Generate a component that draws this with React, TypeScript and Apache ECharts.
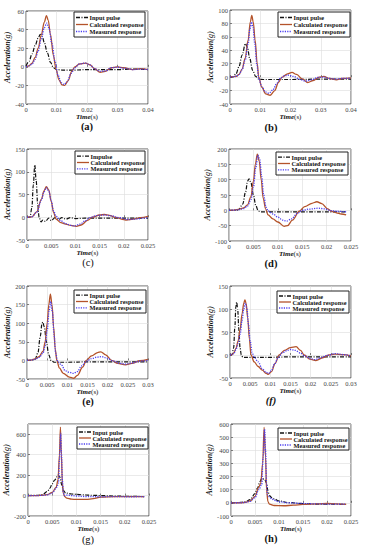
import React, { useEffect, useRef } from "react";
import * as echarts from "echarts";

type P = [number, number];

// (a)
const aInput: P[] = [[0,1],[0.001,6],[0.002,14],[0.003,23],[0.004,31],[0.0047,35],[0.0053,33],[0.006,26],[0.007,15],[0.008,5],[0.009,-1],[0.01,-3],[0.012,-3.5],[0.016,-3.5],[0.02,-3],[0.025,-3],[0.03,-3],[0.035,-2.5],[0.04,-3]];
const aCalc: P[] = [[0,0],[0.001,1],[0.002,4],[0.003,10],[0.004,20],[0.005,34],[0.006,48],[0.0067,55],[0.0073,50],[0.008,35],[0.009,12],[0.0098,-2],[0.0108,-14],[0.0118,-19.5],[0.0127,-20],[0.0138,-15],[0.015,-5],[0.016,0],[0.0175,3],[0.0195,4],[0.021,2],[0.0225,-2],[0.0243,-6],[0.026,-5],[0.028,-1],[0.03,0],[0.032,-1],[0.035,-3],[0.0375,-2],[0.04,-3]];
const aMeas: P[] = [[0,0],[0.001,1],[0.002,3],[0.003,8],[0.004,17],[0.005,30],[0.006,42],[0.0068,47],[0.0075,42],[0.0085,25],[0.0095,6],[0.0105,-9],[0.0115,-17],[0.0125,-19],[0.0135,-16],[0.0148,-7],[0.016,-1],[0.0175,3],[0.0195,4],[0.021,2],[0.0225,-2],[0.0243,-5],[0.026,-4.5],[0.028,-1],[0.03,-0.5],[0.032,-1.5],[0.035,-3],[0.0375,-2.5],[0.04,-3]];
// (b)
const bInput: P[] = [[0,0],[0.001,0.5],[0.002,5],[0.003,16],[0.004,33],[0.0051,50],[0.0058,44],[0.0065,28],[0.0075,10],[0.0085,1],[0.0095,-3],[0.011,-3.5],[0.015,-3.5],[0.02,-3.5],[0.03,-3],[0.04,-3]];
const bCalc: P[] = [[0,0],[0.002,1],[0.003,4],[0.004,12],[0.005,28],[0.006,55],[0.0067,82],[0.0072,92],[0.0077,82],[0.0083,55],[0.009,20],[0.0095,0],[0.0105,-15],[0.0118,-25],[0.0133,-27],[0.0148,-20],[0.016,-8],[0.0172,0],[0.019,5],[0.0205,7],[0.022,4],[0.024,-3],[0.0257,-8],[0.0275,-5],[0.0295,0],[0.031,1],[0.033,-2],[0.0352,-4],[0.037,-2],[0.04,-1]];
const bMeas: P[] = [[0,0],[0.002,1],[0.003,4],[0.004,11],[0.005,25],[0.006,50],[0.0066,72],[0.0071,82],[0.0076,74],[0.0082,50],[0.0089,18],[0.0095,-2],[0.0105,-14],[0.0117,-22],[0.0128,-24],[0.0142,-19],[0.0155,-9],[0.0168,-1],[0.018,2],[0.0195,3],[0.021,1],[0.023,-3],[0.025,-6],[0.027,-4],[0.029,-0.5],[0.031,0],[0.033,-2],[0.035,-3],[0.037,-2],[0.04,-1.5]];
// (c)
const cInput: P[] = [[0,0],[0.0006,0],[0.001,20],[0.0013,70],[0.0016,115],[0.0019,80],[0.0022,30],[0.0025,0],[0.0029,-10],[0.0033,-6],[0.0038,-9],[0.0045,-2],[0.005,-7],[0.0058,-1],[0.0065,-5],[0.0072,-1],[0.008,-4],[0.009,-1],[0.01,-3],[0.012,-2],[0.015,-2],[0.02,-2],[0.025,-2]];
const cCalc: P[] = [[0,0],[0.001,1],[0.002,12],[0.003,40],[0.0035,58],[0.004,67],[0.0045,60],[0.005,35],[0.0055,10],[0.006,-4],[0.007,-12],[0.008,-15],[0.009,-18],[0.0102,-20],[0.0112,-17],[0.0125,-7],[0.0135,0],[0.015,5],[0.016,6],[0.017,4],[0.0185,-1],[0.02,-5],[0.0205,-6],[0.022,-4],[0.0235,-1],[0.025,2]];
const cMeas: P[] = [[0,0],[0.001,1],[0.002,11],[0.003,38],[0.0035,56],[0.004,65],[0.0045,58],[0.005,36],[0.0055,14],[0.006,2],[0.007,-8],[0.008,-14],[0.009,-18],[0.0098,-19],[0.011,-15],[0.012,-8],[0.013,-1],[0.0145,4],[0.016,5],[0.0175,3],[0.019,-1],[0.021,-5],[0.0225,-4],[0.024,-2],[0.025,-1]];
// (d)
const dInput: P[] = [[0,0],[0.0015,0],[0.002,3],[0.0028,20],[0.0034,60],[0.0038,95],[0.0041,103],[0.0045,90],[0.005,50],[0.0055,15],[0.006,-2],[0.0065,-5],[0.008,-5],[0.012,-5],[0.016,-5],[0.02,-5],[0.024,-5]];
const dCalc: P[] = [[0,0],[0.001,1],[0.002,3],[0.003,8],[0.0038,18],[0.0045,45],[0.005,95],[0.0054,150],[0.0058,183],[0.0062,160],[0.0066,100],[0.007,40],[0.0075,5],[0.008,-15],[0.009,-28],[0.01,-38],[0.0113,-52],[0.012,-50],[0.013,-32],[0.0144,-3],[0.0155,12],[0.017,23],[0.018,28],[0.019,22],[0.0202,5],[0.021,-3],[0.022,-8],[0.023,-12],[0.024,-15]];
const dMeas: P[] = [[0,0],[0.001,1],[0.002,2],[0.003,6],[0.0038,14],[0.0045,35],[0.005,75],[0.0055,140],[0.0059,180],[0.0063,165],[0.0067,110],[0.0071,50],[0.0076,10],[0.008,-2],[0.009,-12],[0.01,-22],[0.011,-32],[0.0118,-35],[0.0128,-28],[0.014,-10],[0.015,0],[0.0165,4],[0.0183,7],[0.0195,5],[0.021,-1],[0.022,-3],[0.024,-5]];
// (e)
const eInput: P[] = [[0,0],[0.001,0],[0.002,3],[0.0027,20],[0.0033,65],[0.0037,98],[0.0039,103],[0.0043,90],[0.0048,50],[0.0054,15],[0.006,-1],[0.0068,-5],[0.01,-5],[0.015,-4],[0.02,-4],[0.025,-4],[0.03,-4]];
const eCalc: P[] = [[0,0],[0.001,1],[0.002,4],[0.003,10],[0.004,25],[0.0045,50],[0.005,100],[0.0054,150],[0.0058,178],[0.0062,150],[0.0066,90],[0.007,30],[0.0074,0],[0.008,-20],[0.009,-35],[0.0105,-45],[0.0116,-48],[0.0125,-40],[0.0138,-18],[0.0147,0],[0.016,12],[0.0175,21],[0.0183,23],[0.0195,15],[0.021,0],[0.0225,-8],[0.0244,-12],[0.026,-8],[0.028,-1],[0.03,3]];
const eMeas: P[] = [[0,0],[0.001,1],[0.002,3],[0.003,8],[0.004,20],[0.0045,40],[0.005,80],[0.0055,135],[0.0059,158],[0.0063,130],[0.0067,70],[0.0071,20],[0.0076,-2],[0.0085,-12],[0.0095,-28],[0.0105,-32],[0.0115,-35],[0.0125,-30],[0.0135,-15],[0.0148,-2],[0.016,5],[0.0175,9],[0.0185,10],[0.0198,6],[0.0215,-2],[0.023,-8],[0.0245,-10],[0.026,-7],[0.028,-2],[0.03,0]];
// (f)
const fInput: P[] = [[0,0],[0.0005,1],[0.0009,15],[0.0012,60],[0.00145,105],[0.00165,115],[0.0019,100],[0.0022,55],[0.0025,15],[0.0028,0],[0.0032,-5],[0.005,-5],[0.01,-5],[0.015,-4],[0.02,-4],[0.025,-4],[0.03,-4]];
const fCalc: P[] = [[0,0],[0.0005,1],[0.001,5],[0.0015,15],[0.002,30],[0.0025,55],[0.003,90],[0.0034,112],[0.0037,120],[0.004,112],[0.0044,80],[0.0048,35],[0.0052,0],[0.006,-15],[0.007,-25],[0.008,-33],[0.009,-40],[0.0095,-42],[0.0103,-36],[0.0112,-18],[0.0122,0],[0.0135,10],[0.015,16],[0.0164,18],[0.0175,10],[0.0184,0],[0.0198,-9],[0.0213,-12],[0.023,-6],[0.0245,0],[0.026,2],[0.028,1],[0.03,-2]];
const fMeas: P[] = [[0,0],[0.0005,1],[0.001,4],[0.0015,12],[0.002,25],[0.0025,45],[0.003,75],[0.0034,100],[0.0038,113],[0.0042,100],[0.0046,65],[0.005,30],[0.0055,5],[0.006,-5],[0.007,-15],[0.008,-30],[0.009,-38],[0.0096,-40],[0.0103,-33],[0.011,-20],[0.012,-5],[0.013,5],[0.0142,10],[0.015,12],[0.0162,10],[0.0175,4],[0.0185,-2],[0.02,-8],[0.021,-10],[0.0225,-6],[0.024,-1],[0.026,3],[0.028,1],[0.03,-2]];
// (g)
const gInput: P[] = [[0,0],[0.002,2],[0.003,10],[0.004,40],[0.0045,70],[0.005,115],[0.0055,150],[0.0062,200],[0.0066,180],[0.007,100],[0.0073,50],[0.0078,25],[0.009,15],[0.011,8],[0.013,3],[0.015,0],[0.018,-5],[0.021,-8],[0.024,-10]];
const gCalc: P[] = [[0,0],[0.002,0],[0.003,3],[0.004,10],[0.005,30],[0.0058,80],[0.0062,150],[0.0065,400],[0.0067,670],[0.0069,400],[0.0071,120],[0.0073,20],[0.0076,-10],[0.008,-25],[0.009,-35],[0.01,-38],[0.012,-38],[0.0135,-30],[0.015,-15],[0.018,-10],[0.021,-10],[0.024,-10]];
const gMeas: P[] = [[0,0],[0.002,0],[0.003,2],[0.004,8],[0.005,25],[0.0058,70],[0.0061,100],[0.0063,120],[0.0065,350],[0.00675,610],[0.0069,420],[0.0071,150],[0.0073,30],[0.0075,0],[0.008,5],[0.009,0],[0.01,-5],[0.012,-10],[0.015,-12],[0.018,-10],[0.021,-12],[0.024,-10]];
// (h)
const hInput: P[] = [[0,0],[0.002,3],[0.003,8],[0.004,25],[0.005,70],[0.0055,110],[0.006,160],[0.0064,185],[0.007,180],[0.0074,150],[0.0077,90],[0.008,55],[0.0085,40],[0.009,30],[0.01,15],[0.012,2],[0.015,-5],[0.018,-10],[0.021,-10],[0.024,-12]];
const hCalc: P[] = [[0,0],[0.002,1],[0.003,4],[0.004,15],[0.005,50],[0.0058,120],[0.0062,150],[0.0066,300],[0.0069,575],[0.0072,350],[0.0074,100],[0.0077,10],[0.008,-10],[0.009,-20],[0.011,-22],[0.013,-18],[0.015,-12],[0.018,-8],[0.02,-5],[0.022,-8],[0.024,-12]];
const hMeas: P[] = [[0,0],[0.002,1],[0.003,3],[0.004,12],[0.005,40],[0.0058,100],[0.0064,140],[0.0067,350],[0.007,560],[0.0072,400],[0.0074,150],[0.0076,60],[0.008,45],[0.0085,30],[0.009,20],[0.01,8],[0.012,0],[0.015,-5],[0.018,-8],[0.021,-10],[0.024,-10]];

const inputNames = ["Input pulse", "Input pulse", "Impulse", "Input pulse", "Input pulse", "Input pulse", "Input pulse", "Input pulse"];
const calcName = "Calculated response";
const measName = "Measured response";
const captions = ["(a)", "(b)", "(c)", "(d)", "(e)", "(f)", "(g)", "(h)"];

// axis ranges
const xMaxes = [0.04, 0.04, 0.025, 0.025, 0.03, 0.03, 0.025, 0.025];
const xIntervals = [0.01, 0.01, 0.005, 0.005, 0.005, 0.005, 0.005, 0.005];
const yMins = [-40, -40, -50, -100, -50, -50, -200, -100];
const yMaxes = [60, 100, 150, 200, 200, 150, 700, 600];
const yIntervals = [20, 20, 50, 50, 50, 50, 200, 100];

const seriesData: P[][][] = [
  [aInput, aCalc, aMeas],
  [bInput, bCalc, bMeas],
  [cInput, cCalc, cMeas],
  [dInput, dCalc, dMeas],
  [eInput, eCalc, eMeas],
  [fInput, fCalc, fMeas],
  [gInput, gCalc, gMeas],
  [hInput, hCalc, hMeas],
];

// layout (pixels)
const grids = [
  { left: 26, top: 11, width: 122, height: 93 },
  { left: 230, top: 10, width: 121, height: 94 },
  { left: 27, top: 149, width: 121, height: 91 },
  { left: 229, top: 149, width: 122, height: 92 },
  { left: 27, top: 286, width: 121, height: 93 },
  { left: 230, top: 286, width: 121, height: 92 },
  { left: 28, top: 424, width: 121, height: 92 },
  { left: 231, top: 424, width: 120, height: 92 },
];
const legendBoxes = [
  { x: 74, y: 12, w: 71, h: 25 },
  { x: 278, y: 12, w: 72, h: 25 },
  { x: 75, y: 151, w: 70, h: 23 },
  { x: 276, y: 152, w: 72, h: 23 },
  { x: 74, y: 290, w: 72, h: 23 },
  { x: 277, y: 291, w: 72, h: 22 },
  { x: 77, y: 427, w: 71, h: 22 },
  { x: 278, y: 428, w: 71, h: 22 },
];
const captionPos = [
  { x: 87, y: 126, weight: "bold", style: "normal" },
  { x: 271, y: 127, weight: "bold", style: "normal" },
  { x: 88, y: 262, weight: "normal", style: "normal" },
  { x: 271, y: 263, weight: "bold", style: "normal" },
  { x: 88, y: 401, weight: "bold", style: "normal" },
  { x: 271, y: 400, weight: "bold", style: "italic" },
  { x: 88, y: 539, weight: "normal", style: "normal" },
  { x: 271, y: 538, weight: "bold", style: "normal" },
];

const FONT = '"Liberation Serif", "Times New Roman", serif';
const COL_IN = "#111111";
const COL_CALC = "#b4532a";
const COL_MEAS = "#4a3cf0";
const STYLES = [
  { color: COL_IN, width: 1.2, type: [4, 1.5, 1, 1.5] as number[] | string },
  { color: COL_CALC, width: 1.3, type: "solid" as number[] | string },
  { color: COL_MEAS, width: 1.3, type: [1.2, 1.2] as number[] | string },
];

export default function App() {
  const ref = useRef<HTMLDivElement>(null);
  useEffect(() => {
    if (!ref.current) return;
    const chart = echarts.init(ref.current, undefined, { renderer: "svg" });
    const xAxis: any[] = [];
    const yAxis: any[] = [];
    const series: any[] = [];
    const graphic: any[] = [];
    grids.forEach((g, i) => {
      xAxis.push({
        type: "value",
        gridIndex: i,
        min: 0,
        max: xMaxes[i],
        interval: xIntervals[i],
        axisLine: { show: false },
        axisTick: { show: true, inside: true, length: 2, lineStyle: { color: "#333", width: 0.6 } },
        splitLine: { show: true, lineStyle: { color: "#dcdcdc", width: 0.6 } },
        axisLabel: { fontFamily: FONT, fontSize: 6.5, color: "#444", margin: 2 },
        name: "{b|Time}{n|(s)}",
        nameLocation: "middle",
        nameGap: 7,
        nameTextStyle: {
          rich: {
            b: { fontFamily: FONT, fontSize: 7, fontWeight: "bold", fontStyle: "italic", color: "#111" },
            n: { fontFamily: FONT, fontSize: 7, color: "#111" },
          },
        },
      });
      yAxis.push({
        type: "value",
        gridIndex: i,
        min: yMins[i],
        max: yMaxes[i],
        interval: yIntervals[i],
        axisLine: { show: false },
        axisTick: { show: true, inside: true, length: 2, lineStyle: { color: "#333", width: 0.6 } },
        splitLine: { show: true, lineStyle: { color: "#dcdcdc", width: 0.6 } },
        axisLabel: { fontFamily: FONT, fontSize: 6.5, color: "#444", margin: 2, showMaxLabel: yMaxes[i] % yIntervals[i] === 0 },
        name: "{b|Acceleration}{n|(g)}",
        nameLocation: "middle",
        nameGap: i % 2 === 0 ? 10 : 11,
        nameTextStyle: {
          rich: {
            b: { fontFamily: FONT, fontSize: 8, fontWeight: "bold", fontStyle: "italic", color: "#111" },
            n: { fontFamily: FONT, fontSize: 8, fontStyle: "italic", color: "#111" },
          },
        },
      });
      const names = [inputNames[i], calcName, measName];
      seriesData[i].forEach((d, k) => {
        series.push({
          type: "line",
          name: names[k],
          xAxisIndex: i,
          yAxisIndex: i,
          data: d,
          symbol: "none",
          showSymbol: false,
          smooth: 0.35,
          smoothMonotone: "x",
          z: k === 2 ? 4 : 3,
          lineStyle: STYLES[k],
          itemStyle: { color: STYLES[k].color },
        });
      });
      // legend box drawn by hand
      const b = legendBoxes[i];
      graphic.push({
        type: "rect",
        z: 100,
        shape: { x: b.x, y: b.y, width: b.w, height: b.h },
        style: { fill: "#fff", stroke: "#222", lineWidth: 1 },
      });
      const rowH = (b.h - 4) / 3;
      names.forEach((nm, k) => {
        const cy = b.y + 2 + rowH * (k + 0.5);
        const st = STYLES[k];
        graphic.push({
          type: "line",
          z: 101,
          shape: { x1: b.x + 2, y1: cy, x2: b.x + 14, y2: cy },
          style: {
            stroke: st.color,
            lineWidth: 1.3,
            lineDash: Array.isArray(st.type) ? st.type : null,
          },
        });
        graphic.push({
          type: "text",
          z: 101,
          x: b.x + 15.5,
          y: cy,
          style: {
            text: nm,
            fontFamily: FONT,
            fontSize: 6.3,
            fontWeight: "bold",
            fill: "#111",
            textAlign: "left",
            textVerticalAlign: "middle",
          },
        });
      });
      graphic.push({
        type: "text",
        z: 101,
        x: captionPos[i].x,
        y: captionPos[i].y,
        style: {
          text: captions[i],
          fontFamily: FONT,
          fontSize: 10.5,
          fontWeight: captionPos[i].weight,
          fontStyle: captionPos[i].style,
          fill: "#111",
          textAlign: "center",
          textVerticalAlign: "middle",
        },
      });
    });
    chart.setOption({
      animation: false,
      backgroundColor: "#fff",
      grid: grids.map((g) => ({ ...g, show: true, borderColor: "#333", borderWidth: 0.8, backgroundColor: "transparent" })),
      xAxis,
      yAxis,
      series,
      graphic,
    });
    return () => chart.dispose();
  }, []);
  return <div ref={ref} style={{ position: "fixed", left: 0, top: 0, width: 368, height: 550 }} />;
}
